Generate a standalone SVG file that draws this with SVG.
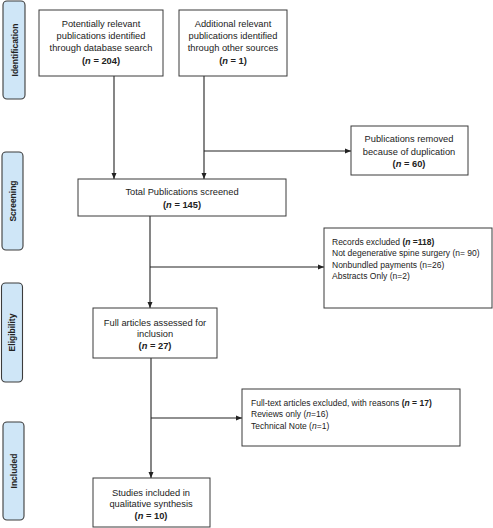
<svg xmlns="http://www.w3.org/2000/svg" width="493" height="528" viewBox="0 0 493 528">
<style>
.box{fill:#fff;stroke:#3a3a3a;stroke-width:1}
.side{fill:#cfe6f7;stroke:#3c3c3c;stroke-width:1.1}
.t{font-family:"Liberation Sans",Arial,sans-serif;font-size:9.3px;fill:#222;text-anchor:middle}
.s{font-family:"Liberation Sans",Arial,sans-serif;font-size:8.5px;fill:#222}
.lab{font-family:"Liberation Sans",Arial,sans-serif;font-size:8.5px;font-weight:bold;fill:#222;text-anchor:middle}
.b{font-weight:bold}
.i{font-style:italic}
.c{fill:none;stroke:#222;stroke-width:1.1}
</style>
<defs>
<marker id="ah" markerUnits="userSpaceOnUse" markerWidth="6" markerHeight="6" refX="6" refY="3" orient="auto">
<path d="M0,0.5 L6,3 L0,5.5 z" fill="#222"/>
</marker>
</defs>
<rect width="493" height="528" fill="#fff"/>
<g id="phase-identification">
<rect class="side" x="3" y="1" width="22" height="98" rx="4"/>
<text class="lab" transform="translate(17.5,50) rotate(-90)">Identification</text>
</g>
<g id="phase-screening">
<rect class="side" x="2" y="152" width="21" height="98" rx="4"/>
<text class="lab" transform="translate(15.5,201) rotate(-90)">Screening</text>
</g>
<g id="phase-eligibility">
<rect class="side" x="1.5" y="283" width="21" height="99" rx="4"/>
<text class="lab" transform="translate(15,332.5) rotate(-90)">Eligibility</text>
</g>
<g id="phase-included">
<rect class="side" x="3" y="422" width="21" height="98" rx="4"/>
<text class="lab" transform="translate(16.5,471) rotate(-90)">Included</text>
</g>
<g id="connectors">
<line class="c" x1="114" y1="76" x2="114" y2="179" marker-end="url(#ah)"/>
<line class="c" x1="204" y1="76" x2="204" y2="179" marker-end="url(#ah)"/>
<line class="c" x1="204" y1="151" x2="351" y2="151" marker-end="url(#ah)"/>
<line class="c" x1="150" y1="216" x2="150" y2="308" marker-end="url(#ah)"/>
<line class="c" x1="150" y1="267" x2="324" y2="267" marker-end="url(#ah)"/>
<line class="c" x1="151" y1="358" x2="151" y2="478" marker-end="url(#ah)"/>
<line class="c" x1="151" y1="418" x2="242" y2="418" marker-end="url(#ah)"/>
</g>
<g id="node-database">
<rect class="box" x="39" y="10" width="124" height="66"/>
<text class="t" x="101" y="27">Potentially relevant</text>
<text class="t" x="101" y="39">publications identified</text>
<text class="t" x="101" y="51">through database search</text>
<text class="t b" x="101" y="64">(<tspan class="i">n</tspan> = 204)</text>
</g>
<g id="node-other">
<rect class="box" x="179" y="10" width="108" height="66"/>
<text class="t" x="233" y="27">Additional relevant</text>
<text class="t" x="233" y="39">publications identified</text>
<text class="t" x="233" y="51">through other sources</text>
<text class="t b" x="233" y="64">(<tspan class="i">n</tspan> = 1)</text>
</g>
<g id="node-removed">
<rect class="box" x="351" y="126" width="117" height="49"/>
<text class="t" x="409" y="142">Publications removed</text>
<text class="t" x="409" y="155">because of duplication</text>
<text class="t b" x="409" y="167">(<tspan class="i">n</tspan> = 60)</text>
</g>
<g id="node-screened">
<rect class="box" x="78" y="179" width="208" height="37"/>
<text class="t" x="182" y="195">Total Publications screened</text>
<text class="t b" x="182" y="208">(<tspan class="i">n</tspan> = 145)</text>
</g>
<g id="node-records-excluded">
<rect class="box" x="324" y="228" width="168" height="80"/>
<text class="s" x="332" y="245">Records excluded <tspan class="b">(<tspan class="i">n</tspan> =118)</tspan></text>
<text class="s" x="332" y="256">Not degenerative spine surgery (n= 90)</text>
<text class="s" x="332" y="268">Nonbundled payments (n=26)</text>
<text class="s" x="332" y="279">Abstracts Only (n=2)</text>
</g>
<g id="node-full-articles">
<rect class="box" x="93" y="308" width="124" height="50"/>
<text class="t" x="155" y="326">Full articles assessed for</text>
<text class="t" x="155" y="337">inclusion</text>
<text class="t b" x="155" y="349">(<tspan class="i">n</tspan> = 27)</text>
</g>
<g id="node-fulltext-excluded">
<rect class="box" x="242" y="389" width="218" height="57"/>
<text class="s" x="251" y="406">Full-text articles excluded, with reasons <tspan class="b">(<tspan class="i">n</tspan> = 17)</tspan></text>
<text class="s" x="251" y="417">Reviews only (<tspan class="i">n</tspan>=16)</text>
<text class="s" x="251" y="429">Technical Note (<tspan class="i">n</tspan>=1)</text>
</g>
<g id="node-studies">
<rect class="box" x="93" y="478" width="117" height="49"/>
<text class="t" x="151" y="496">Studies included in</text>
<text class="t" x="151" y="507">qualitative synthesis</text>
<text class="t b" x="151" y="519">(<tspan class="i">n</tspan> = 10)</text>
</g>
</svg>
